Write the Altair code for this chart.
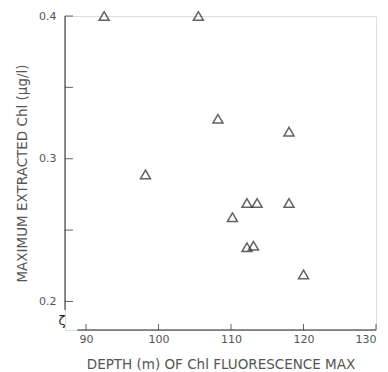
import altair as alt
import pandas as pd

depth = [92.5, 105.5, 108.2, 118.0, 98.2, 112.2, 113.6, 118.0, 110.2, 112.2, 113.1, 120.0]
chl = [0.400, 0.400, 0.328, 0.319, 0.289, 0.269, 0.269, 0.269, 0.259, 0.238, 0.239, 0.219]

x_ticks = [90, 100, 110, 120, 130]
y_ticks = [0.2, 0.25, 0.3, 0.35, 0.4]
y_labels = [0.2, 0.3, 0.4]

x_dom = [87.1, 130]
y_dom = [0.18, 0.4]

ink = "#222222"
txt = "#555555"
font = "DejaVu Sans"

df = pd.DataFrame({"depth": depth, "chl": chl})

xs = alt.Scale(domain=x_dom, nice=False, zero=False)
ys = alt.Scale(domain=y_dom, nice=False, zero=False)

xaxis = alt.Axis(values=x_ticks, domain=False, ticks=False, grid=False, labelFont=font,
                 labelFontSize=11, labelColor=txt, labelPadding=3, title="DEPTH (m) OF Chl FLUORESCENCE MAX",
                 titleFont=font, titleFontSize=13.5, titleFontWeight="normal", titleColor=txt, titlePadding=13)
yaxis = alt.Axis(values=y_labels, format=".1f", domain=False, ticks=False, grid=False, labelFont=font,
                 labelFontSize=11, labelColor=txt, labelPadding=9, title="MAXIMUM EXTRACTED Chl (μg/l)",
                 titleFont=font, titleFontSize=13.5, titleFontWeight="normal", titleColor=txt, titlePadding=9)

pts = alt.Chart(df).mark_point(shape="triangle-up", filled=False, size=100, strokeWidth=1.5, color=ink).encode(
    x=alt.X("depth:Q", scale=xs, axis=xaxis),
    y=alt.Y("chl:Q", scale=ys, axis=yaxis),
)

yline = alt.Chart(pd.DataFrame({"x": [x_dom[0]], "y": [0.194], "y2": [0.4]})).mark_rule(color=ink, strokeWidth=1).encode(
    x=alt.X("x:Q", scale=xs), y=alt.Y("y:Q", scale=ys), y2="y2:Q")
xline = alt.Chart(pd.DataFrame({"x": [88.8], "x2": [130], "y": [y_dom[0]]})).mark_rule(color=ink, strokeWidth=1).encode(
    x=alt.X("x:Q", scale=xs), x2="x2:Q", y=alt.Y("y:Q", scale=ys))

yt = alt.Chart(pd.DataFrame({"y": y_ticks, "x": [x_dom[0]] * len(y_ticks)})).mark_tick(
    orient="horizontal", size=8, thickness=1, color=ink, xOffset=4).encode(
    x=alt.X("x:Q", scale=xs), y=alt.Y("y:Q", scale=ys))
xt = alt.Chart(pd.DataFrame({"x": x_ticks, "y": [y_dom[0]] * len(x_ticks)})).mark_tick(
    orient="vertical", size=6, thickness=1, color=ink, yOffset=-3).encode(
    x=alt.X("x:Q", scale=xs), y=alt.Y("y:Q", scale=ys))

brk = alt.Chart(pd.DataFrame({"t": ["ζ"]})).mark_text(font=font, fontSize=13, color=ink).encode(
    text="t:N", x=alt.value(-3), y=alt.value(305))

chart = alt.layer(pts, yline, xline, yt, xt, brk).properties(
    width=311, height=314,
    autosize=alt.AutoSizeParams(type="none"),
    padding={"left": 65, "top": 16, "right": 12, "bottom": 42},
).configure_view(stroke=None).configure(background="white")

chart.save("out.html", embed_options={"renderer": "svg", "actions": False})
